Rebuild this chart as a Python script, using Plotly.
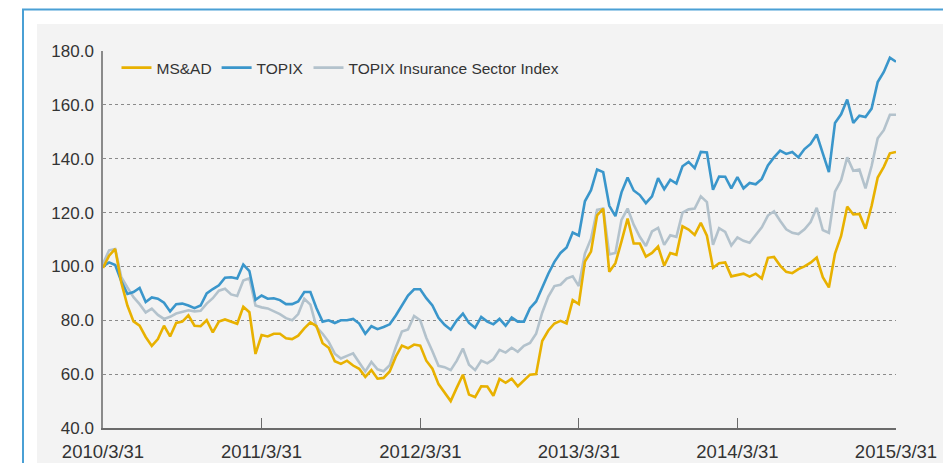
import plotly.graph_objects as go
import pandas as pd

# Roughly two-week sampling from 2010/3/31 to 2015/3/31 (131 points)
start_date = "2010-03-31"
end_date = "2015-03-31"

msad = [99.4, 104, 106.5, 94, 85.5, 79.6, 78, 73.8, 70.5, 73,
        78, 74, 79, 79.5, 81.8, 78, 77.8, 80, 75.5, 79.5,
        80.3, 79.5, 78.7, 85, 83, 67.5, 74.5, 74, 75, 75,
        73.3, 73, 74.3, 77, 79.2, 77.8, 71.5, 69.8, 64.8, 63.8,
        65, 63.2, 62, 59, 61.5, 58.3, 58.6, 61, 66.5, 70.6,
        69.6, 71, 70.6, 65, 62, 56.3, 53, 50, 55, 59.8,
        52.4, 51.5, 55.5, 55.4, 52, 58.2, 56.8, 58.3, 55.5, 57.5,
        59.8, 60, 72.3, 76.2, 78.8, 79.8, 78.8, 87.5, 86, 101.8,
        105.5, 119, 121.5, 98, 101.2, 109.3, 117.8, 108.5, 108.5, 103.6,
        105, 107.4, 100.3, 105, 104.3, 114.9, 113.7, 111.7, 116.2, 111.4,
        99.5, 101.2, 101.5, 96.3, 96.8, 97.3, 96.2, 97.3, 95.5, 103.2,
        103.5, 100.3, 98, 97.5, 99, 100, 101.4, 103.3, 96, 92.2,
        104.8, 111.3, 122.2, 119.3, 119.5, 114, 122.5, 133, 137, 142,
        142.5]

topix = [100, 101.5, 100.5, 94.5, 89.8, 90.5, 92, 86.8, 88.5, 88,
         86.5, 83.3, 86, 86.2, 85.5, 84.5, 85.5, 90, 91.6, 93,
         95.8, 96, 95.5, 100.7, 98.3, 87.6, 89.2, 88, 88.2, 87.5,
         86, 86, 87, 90.5, 90.5, 84.5, 79.5, 80, 79, 80,
         80, 80.5, 78.8, 75, 77.8, 76.7, 77.5, 78.5, 81.8, 85.5,
         89.2, 91.5, 91.5, 88.2, 85.5, 80.9, 78.3, 76.5, 80, 82.5,
         79, 77.2, 81.2, 79.5, 78.5, 80.5, 78, 81, 79.5, 79.5,
         84.5, 87, 92.5, 97.3, 101.7, 105, 107, 112.6, 111.5, 124.2,
         128.3, 136, 135, 122.5, 118.7, 127.5, 133, 128.2, 126.5, 123.5,
         126, 132.8, 128.7, 132.2, 130.8, 137.2, 138.8, 136.5, 142.5, 142.3,
         128.5, 133.4, 133.3, 129, 133.2, 129, 131, 130.5, 132.5, 137.5,
         140.5, 143, 141.8, 142.5, 140.5, 143.6, 145.5, 149, 142, 135,
         153.3, 156.5, 162, 153.3, 156, 155.5, 158.6, 168.5, 172.2, 177.5,
         176]

insurance = [101, 106, 106.5, 96, 92.2, 88.6, 86, 82.9, 84.3, 82,
             80.5, 81.3, 82.5, 83, 83.7, 83.3, 83.5, 86.2, 88.2, 91,
             91.7, 89.6, 89, 94.8, 95.6, 85.5, 84.8, 84.4, 83.4, 82.3,
             80.8, 80, 82.3, 88, 85.8, 77.5, 75, 72, 67.6, 65.8,
             66.8, 67.7, 64.3, 61, 64.5, 61.8, 61.1, 63.3, 70, 75.8,
             76.6, 81.6, 80, 73.5, 68.5, 63.1, 62.6, 61.5, 65, 69.5,
             63.5, 61.5, 65, 64, 65.5, 69, 68, 69.8, 68.3, 70.5,
             71.6, 75, 82.8, 88.8, 92.7, 93.2, 95.5, 96.3, 92.7, 104.8,
             110.3, 121, 121.5, 104.5, 105, 117.3, 121.5, 115.5, 111, 107.6,
             113, 114.3, 108, 111.6, 111, 120, 121.2, 121.5, 126, 123.9,
             108, 114.2, 112.8, 107.8, 110.8, 109.5, 108.8, 111.6, 114.5, 118.9,
             120.5, 117, 113.8, 112.5, 112, 113.8, 116.5, 121.8, 113.5, 112.5,
             127.8, 132, 140.5, 135.5, 136, 129, 137.3, 147.6, 150.6, 156.3,
             156.3]

tick_dates = ["2010-03-31", "2011-03-31", "2012-03-31", "2013-03-31", "2014-03-31", "2015-03-31"]
tick_labels = ["2010/3/31", "2011/3/31", "2012/3/31", "2013/3/31", "2014/3/31", "2015/3/31"]
y_ticks = [40, 60, 80, 100, 120, 140, 160, 180]

dates = pd.date_range(start_date, end_date, periods=len(msad))

# page body has an 8px margin, so the figure is drawn 8px in from the window corner
OFF = 8
W, H = 951 - OFF, 463 - OFF
ML, MT = 103 - OFF, 51 - OFF
MR = W - (896 - OFF)
MB = H - (428 - OFF)
PW, PH = W - ML - MR, H - MT - MB


def px(x):
    return (x - OFF - ML) / PW


def py(y):
    return (H - MB - (y - OFF)) / PH


FONT = "Liberation Sans, Arial, sans-serif"

fig = go.Figure()
fig.add_trace(go.Scatter(x=dates, y=insurance, mode="lines", name="TOPIX Insurance Sector Index",
                         line=dict(color="#b3c2cc", width=2.6), legendrank=3))
fig.add_trace(go.Scatter(x=dates, y=topix, mode="lines", name="TOPIX",
                         line=dict(color="#3a96cb", width=2.6), legendrank=2))
fig.add_trace(go.Scatter(x=dates, y=msad, mode="lines", name="MS&AD",
                         line=dict(color="#e8b100", width=2.6), legendrank=1))

shapes = [
    dict(type="rect", xref="paper", yref="paper", layer="below",
         x0=px(23), x1=px(980), y0=py(9.5), y1=py(490),
         line=dict(color="#4aa0d5", width=2), fillcolor="white"),
    dict(type="rect", xref="paper", yref="paper", layer="below",
         x0=px(37), x1=px(980), y0=py(24), y1=py(490),
         line=dict(width=0), fillcolor="#f3f3f3"),
]

fig.update_layout(
    width=W, height=H,
    margin=dict(l=ML, r=MR, t=MT, b=MB, autoexpand=False),
    paper_bgcolor="white",
    plot_bgcolor="rgba(0,0,0,0)",
    shapes=shapes,
    font=dict(family=FONT, color="#333333"),
    showlegend=True,
    legend=dict(orientation="h", x=0.017, y=1.0, xanchor="left", yanchor="top",
                bgcolor="rgba(0,0,0,0)", font=dict(size=15.5, color="#333333"),
                traceorder="normal"),
    xaxis=dict(
        type="date",
        range=[start_date, end_date],
        tickvals=tick_dates, ticktext=tick_labels,
        showgrid=False, zeroline=False,
        showline=True, linecolor="#6a6a6a", linewidth=1.5,
        ticks="inside", ticklen=10, tickwidth=1.2, tickcolor="#6a6a6a",
        tickfont=dict(size=18.5, color="#333333"),
        ticklabelstandoff=6, automargin=False,
    ),
    yaxis=dict(
        range=[40, 180],
        tickvals=y_ticks, tickformat=".1f",
        showgrid=True, gridcolor="#8a8a8a", gridwidth=1, griddash="dot",
        zeroline=False,
        showline=True, linecolor="#8a8a8a", linewidth=1.5,
        ticks="", tickfont=dict(size=17, color="#333333"),
        ticklabelstandoff=4, automargin=False,
    ),
)

fig.write_html("out.html")
